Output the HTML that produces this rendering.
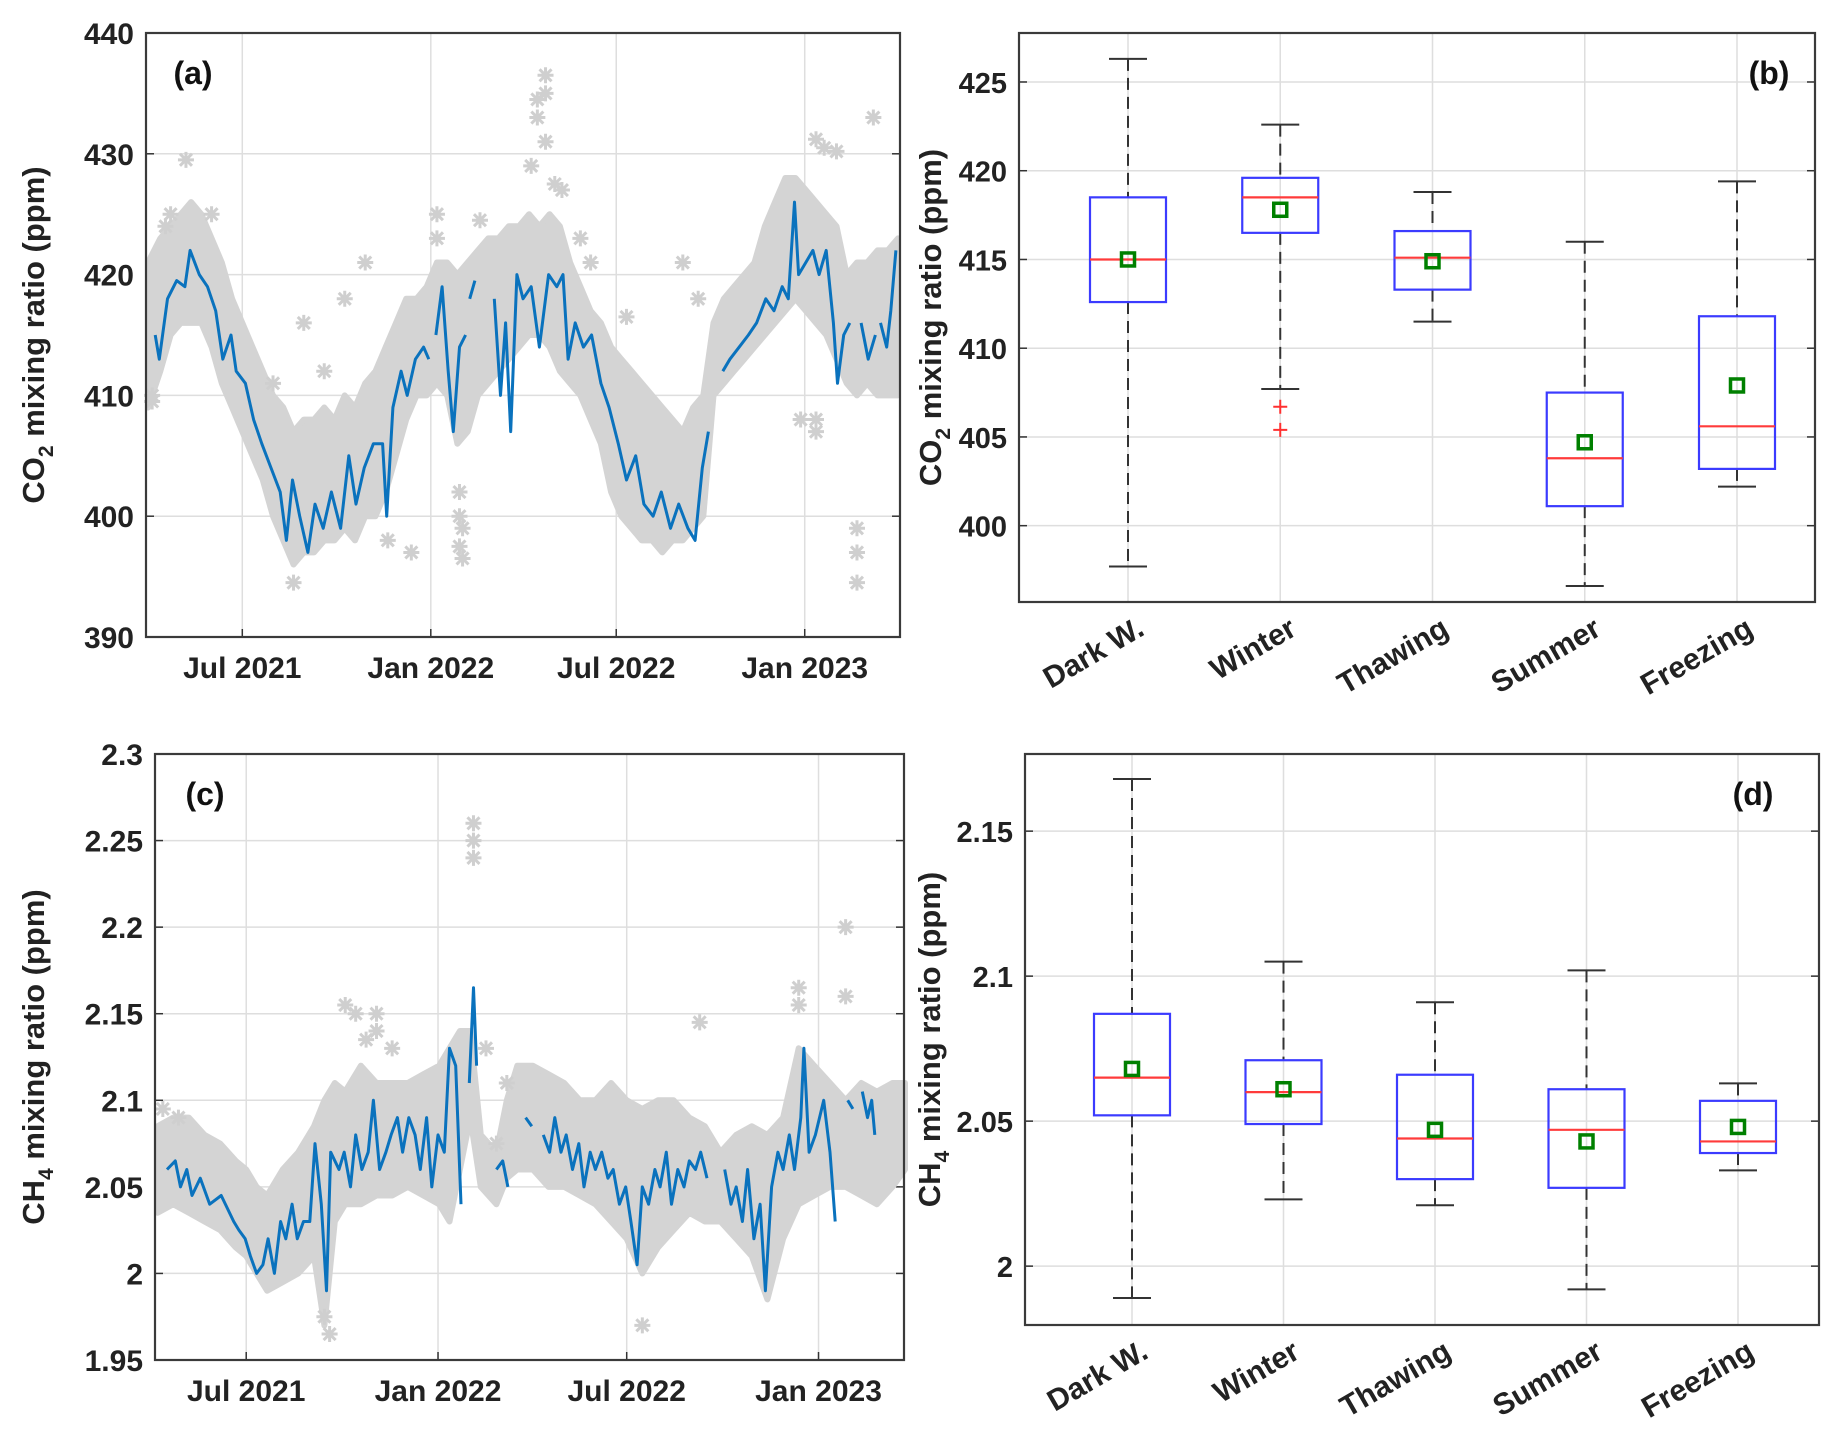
<!DOCTYPE html>
<html><head><meta charset="utf-8"><style>
html,body{margin:0;padding:0;background:#fff;}
svg{display:block;font-family:"Liberation Sans",Arial,sans-serif;font-weight:bold;}
</style></head><body>
<svg id="fig" width="1827" height="1447" viewBox="0 0 1827 1447" xmlns="http://www.w3.org/2000/svg"></svg>
<script>
// ---------- Panel (a) CO2 time series (days since 2021-07-01) ----------
const co2Days = [-85,-81,-73,-64,-56,-51,-42,-34,-26,-19,-11,-6,3,11,19,28,37,43,49,56,64,71,79,87,96,104,111,119,128,137,141,147,155,161,169,177,182,null,189,195,201,206,212,218,null,222,227,null,246,252,257,262,268,274,282,290,299,307,313,318,325,333,341,350,358,367,375,384,392,401,409,418,426,435,442,449,455,null,462,null,469,476,485,494,502,511,519,527,533,539,543,550,557,563,570,577,581,587,593,null,604,611,618,null,623,629,633,638];
const co2Vals = [415,413,418,419.5,419,422,420,419,417,413,415,412,411,408,406,404,402,398,403,400,397,401,399,402,399,405,401,404,406,406,400,409,412,410,413,414,413,null,415,419,412,407,414,415,null,418,419.5,null,418,410,416,407,420,418,419,414,420,419,420,413,416,414,415,411,409,406,403,405,401,400,402,399,401,399,398,404,407,null,403,null,412,413,414,415,416,418,417,419,418,426,420,421,422,420,422,416,411,415,416,null,416,413,415,null,416,414,417,422];
const co2EnvDays = [-92,-80,-70,-60,-50,-40,-30,-20,-10,0,10,20,30,40,50,60,70,80,90,100,110,120,130,140,150,160,170,180,190,200,210,220,230,240,250,260,270,280,290,300,310,320,330,340,350,360,370,380,390,400,410,420,430,440,450,460,470,480,490,500,510,520,530,540,550,560,570,580,590,600,610,620,630,640];
const co2EnvHi = [421,423,424,425,426,425,423,421,418,416,414,412,410,409,407,408,408,409,408,410,409,411,412,414,416,418,418,419,421,421,420,421,422,423,423,424,424,425,424,425,424,421,419,417,416,414,413,412,411,410,409,408,407,409,410,416,418,419,420,421,424,426,428,428,427,426,425,424,420,421,421,422,422,423];
const co2EnvLo = [409,412,415,416,416,416,414,411,409,407,405,403,400,398,396,397,397,398,398,399,398,400,400,402,405,408,410,410,411,410,406,407,410,411,412,413,414,415,415,414,412,411,410,408,406,402,400,399,398,398,397,398,398,399,400,410,411,412,413,414,415,416,417,418,417,416,415,413,411,410,411,410,410,410];
const co2OutDays = [-55,-70,-75,288,288,282,296,296,296,305,312,568,580,560,616,600,600,600,50,120,190,190,232,340,330,165,212,212,212,142,60,100,-88,-88,375,560,545,215,215,560,430,445,-30,30,80];
const co2OutVals = [429.5,425,424,434.5,433,429,436.5,435,431,427.5,427,430.5,430.2,431.2,433,394.5,397,399,394.5,421,425,423,424.5,421,423,397,397.5,400,402,398,416,418,410,409.5,416.5,408,408,396.5,399,407,421,418,425,411,412];
const co2Ticks = [390,400,410,420,430,440];
const dateTickDays = [0,184,365,549];
const dateTickLabels = ["Jul 2021","Jan 2022","Jul 2022","Jan 2023"];

// ---------- Panel (c) CH4 time series ----------
const ch4Days = [-76,-68,-63,-57,-52,-44,-35,-24,-12,-7,-1,4,10,16,21,27,33,38,44,49,55,61,66,72,77,81,89,94,100,105,111,117,122,128,134,139,145,150,156,162,167,173,178,184,190,195,201,206,null,214,218,221,null,240,246,251,null,268,274,null,285,291,296,302,307,313,319,324,330,335,341,347,352,358,364,369,375,380,386,392,397,403,408,414,420,425,431,436,442,null,459,465,470,476,481,487,493,498,504,510,515,521,526,532,535,540,546,554,560,565,null,577,582,null,591,596,600,603];
const ch4Vals = [2.06,2.065,2.05,2.06,2.045,2.055,2.04,2.045,2.03,2.025,2.02,2.01,2.0,2.005,2.02,2.0,2.03,2.02,2.04,2.02,2.03,2.03,2.075,2.04,1.99,2.07,2.06,2.07,2.05,2.08,2.06,2.07,2.1,2.06,2.07,2.08,2.09,2.07,2.09,2.08,2.06,2.09,2.05,2.08,2.07,2.13,2.12,2.04,null,2.11,2.165,2.12,null,2.06,2.065,2.05,null,2.09,2.085,null,2.08,2.07,2.09,2.07,2.08,2.06,2.075,2.05,2.07,2.06,2.07,2.055,2.06,2.04,2.05,2.03,2.005,2.05,2.04,2.06,2.05,2.07,2.04,2.06,2.05,2.065,2.06,2.07,2.055,null,2.06,2.04,2.05,2.03,2.06,2.02,2.04,1.99,2.05,2.07,2.06,2.08,2.06,2.09,2.13,2.07,2.08,2.1,2.07,2.03,null,2.1,2.095,null,2.105,2.09,2.1,2.08];
const ch4EnvDays = [-85,-70,-55,-40,-25,-10,0,10,20,35,50,65,75,85,95,110,125,140,155,170,185,195,205,215,225,240,250,260,275,290,305,320,335,350,365,380,395,410,425,440,455,470,485,500,515,530,545,560,575,590,605,620,632];
const ch4EnvHi = [2.085,2.09,2.09,2.08,2.075,2.065,2.06,2.05,2.045,2.06,2.07,2.085,2.1,2.11,2.105,2.12,2.11,2.11,2.11,2.115,2.12,2.13,2.14,2.14,2.08,2.07,2.1,2.12,2.12,2.115,2.11,2.1,2.1,2.11,2.1,2.095,2.1,2.1,2.09,2.085,2.07,2.08,2.085,2.08,2.09,2.13,2.12,2.11,2.1,2.11,2.105,2.11,2.11];
const ch4EnvLo = [2.035,2.04,2.035,2.03,2.025,2.015,2.01,2.0,1.99,1.995,2.0,2.01,1.97,2.03,2.04,2.04,2.045,2.045,2.05,2.045,2.04,2.03,2.06,2.09,2.05,2.04,2.055,2.06,2.06,2.05,2.05,2.045,2.04,2.03,2.02,2.0,2.015,2.025,2.035,2.03,2.03,2.02,2.01,1.985,2.02,2.04,2.045,2.05,2.05,2.045,2.04,2.05,2.06];
const ch4OutDays = [218,218,218,575,575,530,530,105,95,125,125,435,80,380,75,240,250,-80,-65,115,140,230];
const ch4OutVals = [2.26,2.25,2.24,2.2,2.16,2.165,2.155,2.15,2.155,2.15,2.14,2.145,1.965,1.97,1.975,2.075,2.11,2.095,2.09,2.135,2.13,2.13];
const ch4Ticks = [1.95,2,2.05,2.1,2.15,2.2,2.25,2.3];
const ch4TickLabels = ["1.95","2","2.05","2.1","2.15","2.2","2.25","2.3"];

// ---------- Box plots ----------
const seasons = ["Dark W.","Winter","Thawing","Summer","Freezing"];
const co2WhiskHi = [426.3,422.6,418.8,416.0,419.4];
const co2WhiskLo = [397.7,407.7,411.5,396.6,402.2];
const co2Q3 = [418.5,419.6,416.6,407.5,411.8];
const co2Q1 = [412.6,416.5,413.3,401.1,403.2];
const co2Med = [415.0,418.5,415.1,403.8,405.6];
const co2Mean = [415.0,417.8,414.9,404.7,407.9];
const co2OutlierCat = [1,1];
const co2OutlierVal = [406.7,405.4];
const co2BoxTicks = [400,405,410,415,420,425];

const ch4WhiskHi = [2.168,2.105,2.091,2.102,2.063];
const ch4WhiskLo = [1.989,2.023,2.021,1.992,2.033];
const ch4Q3 = [2.087,2.071,2.066,2.061,2.057];
const ch4Q1 = [2.052,2.049,2.030,2.027,2.039];
const ch4Med = [2.065,2.060,2.044,2.047,2.043];
const ch4Mean = [2.068,2.061,2.047,2.043,2.048];
const ch4BoxTicks = [2,2.05,2.1,2.15];
const ch4BoxTickLabels = ["2","2.05","2.1","2.15"];

const NS = "http://www.w3.org/2000/svg";
const fig = document.getElementById("fig");
function el(tag, attrs, parent, txt){
  const e = document.createElementNS(NS, tag);
  for (const k in attrs) e.setAttribute(k, attrs[k]);
  if (txt !== undefined) e.textContent = txt;
  (parent || fig).appendChild(e);
  return e;
}
function lin(d0,d1,r0,r1){ return v => r0 + (v-d0)/(d1-d0)*(r1-r0); }

function frame(g, L,T,R,B){
  const f = el("rect",{x:L,y:T,width:R-L,height:B-T,fill:"none",stroke:"#3a3a3a","stroke-width":2.2},g);
  
  
}
function yTitle(g, x, y, main, sub){
  const t = el("text",{x:x,y:y,transform:`rotate(-90 ${x} ${y})`,"text-anchor":"middle","font-size":31,fill:"#222"},g);
  
  
  el("tspan",{},t,main[0]);
  el("tspan",{"font-size":21,dy:9},t,sub);
  el("tspan",{dy:-9},t,main[1]);
}
function panelLabel(g,x,y,txt){
  const t = el("text",{x:x,y:y,"text-anchor":"middle","font-size":32,fill:"#111"},g,txt);
  
  
}

function timePanel(o){
  const g = el("g",{});  
  const X = lin(o.d0,o.d1,o.L,o.R), Y = lin(o.y0,o.y1,o.B,o.T);
  o.yTicks.forEach((v,i)=>{
    const y=Y(v);
    const gl=el("line",{x1:o.L,x2:o.R,y1:y,y2:y,stroke:"#dedede","stroke-width":1.5},g);
     
    const tl=el("text",{x:o.L-12,y:y+11,"text-anchor":"end","font-size":30,fill:"#222"},g,o.yLabels[i]);
     
    el("line",{x1:o.L,x2:o.L+8,y1:y,y2:y,stroke:"#333","stroke-width":1.5},g);
    el("line",{x1:o.R,x2:o.R-8,y1:y,y2:y,stroke:"#333","stroke-width":1.5},g);
  });
  dateTickDays.forEach((d,i)=>{
    const x=X(d);
    const gl=el("line",{x1:x,x2:x,y1:o.T,y2:o.B,stroke:"#dedede","stroke-width":1.5},g);
     
    el("line",{x1:x,x2:x,y1:o.B,y2:o.B-8,stroke:"#333","stroke-width":1.5},g);
    const tl=el("text",{x:x,y:o.B+41,"text-anchor":"middle","font-size":30,fill:"#222"},g,dateTickLabels[i]);
     
  });
  let pts=[];
  o.envD.forEach((d,i)=>pts.push(X(d).toFixed(1)+","+Y(o.envHi[i]).toFixed(1)));
  for(let i=o.envD.length-1;i>=0;i--) pts.push(X(o.envD[i]).toFixed(1)+","+Y(o.envLo[i]).toFixed(1));
  const env=el("polygon",{points:pts.join(" "),fill:"#d4d4d4",stroke:"#d4d4d4","stroke-width":6,"stroke-linejoin":"round"},g);
   
  o.outD.forEach((d,i)=>{
    const x=X(d), y=Y(o.outV[i]);
    const s=el("path",{d:`M${x-8},${y}H${x+8}M${x},${y-8}V${y+8}M${x-6},${y-6}L${x+6},${y+6}M${x-6},${y+6}L${x+6},${y-6}`,stroke:"#cfcfcf","stroke-width":3},g);
     
  });
  let d="", pen=false;
  o.days.forEach((t,i)=>{
    const v=o.vals[i];
    if(t===null||v===null){pen=false;return;}
    d += (pen?"L":"M")+X(t).toFixed(1)+","+Y(v).toFixed(1);
    pen=true;
  });
  const ln=el("path",{d:d,fill:"none",stroke:"#0a72bd","stroke-width":3,"stroke-linejoin":"round"},g);
   
  frame(g,o.L,o.T,o.R,o.B);
  yTitle(g,o.titleX,(o.T+o.B)/2,o.title,o.sub);
  panelLabel(g,o.labX,o.labY,o.label);
}

function boxPanel(o){
  const g = el("g",{});  
  const X = lin(0,4,o.c0,o.c4), Y = lin(o.y0,o.y1,o.B,o.T);
  o.yTicks.forEach((v,i)=>{
    const y=Y(v);
    const gl=el("line",{x1:o.L,x2:o.R,y1:y,y2:y,stroke:"#dedede","stroke-width":1.5},g);
     
    const tl=el("text",{x:o.L-12,y:y+11,"text-anchor":"end","font-size":29,fill:"#222"},g,o.yLabels[i]);
     
    el("line",{x1:o.L,x2:o.L+8,y1:y,y2:y,stroke:"#333","stroke-width":1.5},g);
    el("line",{x1:o.R,x2:o.R-8,y1:y,y2:y,stroke:"#333","stroke-width":1.5},g);
  });
  seasons.forEach((s,i)=>{
    const x=X(i), hw=38;
    const gl=el("line",{x1:x,x2:x,y1:o.T,y2:o.B,stroke:"#dedede","stroke-width":1.5},g);
     
    const bg=el("g",{},g);  
    el("line",{x1:x,x2:x,y1:Y(o.wh[i]),y2:Y(o.q3[i]),stroke:"#333","stroke-width":2,"stroke-dasharray":"12,7"},bg);
    el("line",{x1:x,x2:x,y1:Y(o.q1[i]),y2:Y(o.wl[i]),stroke:"#333","stroke-width":2,"stroke-dasharray":"12,7"},bg);
    el("line",{x1:x-19,x2:x+19,y1:Y(o.wh[i]),y2:Y(o.wh[i]),stroke:"#333","stroke-width":2},bg);
    el("line",{x1:x-19,x2:x+19,y1:Y(o.wl[i]),y2:Y(o.wl[i]),stroke:"#333","stroke-width":2},bg);
    el("rect",{x:x-hw,y:Y(o.q3[i]),width:2*hw,height:Y(o.q1[i])-Y(o.q3[i]),fill:"none",stroke:"#3b3bff","stroke-width":2.2},bg);
    el("line",{x1:x-hw,x2:x+hw,y1:Y(o.med[i]),y2:Y(o.med[i]),stroke:"#ff3b3b","stroke-width":2.2},bg);
    const m=Y(o.mean[i]);
    el("rect",{x:x-6.5,y:m-6.5,width:13,height:13,fill:"none",stroke:"#008000","stroke-width":3.5},bg);
    const ty=o.B+32, tx=x+18;
    const tl=el("text",{x:tx,y:ty,transform:`rotate(-30 ${tx} ${ty})`,"text-anchor":"end","font-size":30,fill:"#222"},g,s);
     
  });
  (o.outC||[]).forEach((c,i)=>{
    const x=X(c), y=Y(o.outV[i]);
    const p=el("path",{d:`M${x-7},${y}H${x+7}M${x},${y-7}V${y+7}`,stroke:"#ff3030","stroke-width":2},g);
     
  });
  frame(g,o.L,o.T,o.R,o.B);
  yTitle(g,o.titleX,(o.T+o.B)/2,o.title,o.sub);
  panelLabel(g,o.labX,o.labY,o.label);
}

timePanel({name:"panel-a-co2-timeseries",L:146,R:900,T:33,B:637,d0:-94,d1:642,y0:390,y1:440,
  yTicks:co2Ticks,yLabels:co2Ticks.map(String),envD:co2EnvDays,envHi:co2EnvHi,envLo:co2EnvLo,
  outD:co2OutDays,outV:co2OutVals,days:co2Days,vals:co2Vals,titleX:44,title:["CO"," mixing ratio (ppm)"],sub:"2",
  labX:193,labY:84,label:"(a)"});
boxPanel({name:"panel-b-co2-boxplot",L:1019,R:1815,T:33,B:602,c0:1128,c4:1737,y0:395.7,y1:427.76,
  yTicks:co2BoxTicks,yLabels:co2BoxTicks.map(String),wh:co2WhiskHi,wl:co2WhiskLo,q3:co2Q3,q1:co2Q1,med:co2Med,mean:co2Mean,
  outC:co2OutlierCat,outV:co2OutlierVal,titleX:941,title:["CO"," mixing ratio (ppm)"],sub:"2",labX:1769,labY:84,label:"(b)"});
timePanel({name:"panel-c-ch4-timeseries",L:155,R:904,T:754,B:1360,d0:-87.5,d1:631,y0:1.95,y1:2.3,
  yTicks:ch4Ticks,yLabels:ch4TickLabels,envD:ch4EnvDays,envHi:ch4EnvHi,envLo:ch4EnvLo,
  outD:ch4OutDays,outV:ch4OutVals,days:ch4Days,vals:ch4Vals,titleX:44,title:["CH"," mixing ratio (ppm)"],sub:"4",
  labX:205,labY:805,label:"(c)"});
boxPanel({name:"panel-d-ch4-boxplot",L:1025,R:1819,T:754,B:1325,c0:1132,c4:1738,y0:1.9797,y1:2.1766,
  yTicks:ch4BoxTicks,yLabels:ch4BoxTickLabels,wh:ch4WhiskHi,wl:ch4WhiskLo,q3:ch4Q3,q1:ch4Q1,med:ch4Med,mean:ch4Mean,
  titleX:940,title:["CH"," mixing ratio (ppm)"],sub:"4",labX:1753,labY:805,label:"(d)"});
</script>
</body></html>
